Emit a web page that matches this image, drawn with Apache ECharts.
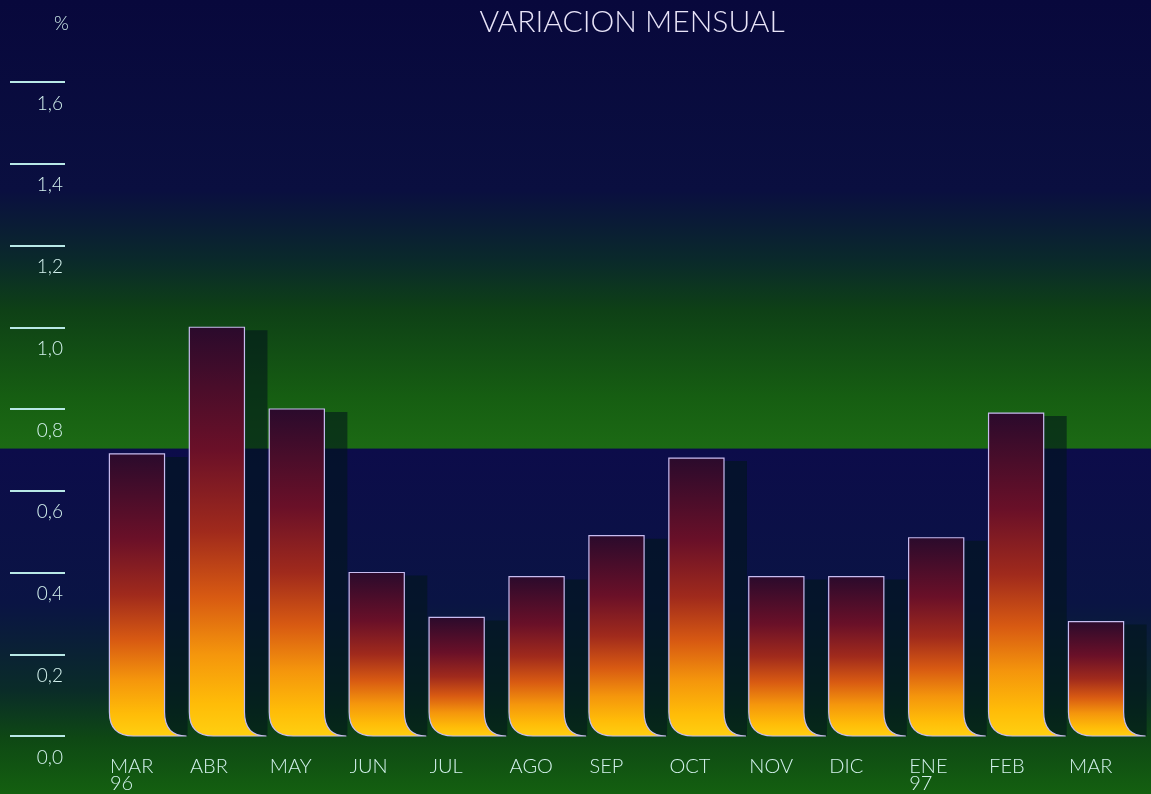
<!DOCTYPE html>
<html>
<head>
<meta charset="utf-8">
<title>Variacion mensual</title>
<script src="https://cdn.jsdelivr.net/npm/echarts@6/dist/echarts.min.js"></script>
<style>
  html, body { margin: 0; padding: 0; background: #0a0a3a; }
  #chart { width: 1151px; height: 794px; }
</style>
</head>
<body>
<div id="chart"></div>
<script>
// datos
var meses = ["MAR\n96", "ABR", "MAY", "JUN", "JUL", "AGO", "SEP", "OCT", "NOV", "DIC", "ENE\n97", "FEB", "MAR"];
var variacion = [0.69, 1.00, 0.80, 0.40, 0.29, 0.39, 0.49, 0.68, 0.39, 0.39, 0.485, 0.79, 0.28];
var etiquetasY = ["0,0", "0,2", "0,4", "0,6", "0,8", "1,0", "1,2", "1,4", "1,6"];

var textColor = "#d4f2ee";
var chart = echarts.init(document.getElementById("chart"));

function renderBar(params, api) {
  var top = api.coord([api.value(0), api.value(1)]);
  var base = api.coord([api.value(0), 0]);
  var w = api.size([1, 0])[0] * 0.69;
  var x0 = top[0] - w / 2;
  var x1 = x0 + w;
  var yt = top[1];
  var yb = base[1];
  var r = 24; // curva del pie
  var f = 22;
  var path = "M" + x0 + " " + yt + " L" + x1 + " " + yt +
    " L" + x1 + " " + (yb - r) + " Q" + x1 + " " + yb + " " + (x1 + f) + " " + yb +
    " L" + (x0 + r) + " " + yb + " Q" + x0 + " " + yb + " " + x0 + " " + (yb - r) + " Z";
  return {
    type: "group",
    children: [
      {
        // sombra a la derecha
        type: "rect",
        shape: { x: x1, y: yt + 3, width: f + 1, height: yb - yt - 3 },
        style: { fill: "rgba(2,22,26,0.6)" }
      },
      {
        type: "path",
        shape: { pathData: path },
        style: {
          fill: new echarts.graphic.LinearGradient(0, 0, 0, 1, [
            { offset: 0, color: "#2a0a2c" },
            { offset: 0.3, color: "#6a1028" },
            { offset: 0.5, color: "#a02a1c" },
            { offset: 0.66, color: "#d85a12" },
            { offset: 0.8, color: "#f5960c" },
            { offset: 0.92, color: "#ffbc08" },
            { offset: 1, color: "#ffd010" }
          ]),
          stroke: "#c8bcf0",
          lineWidth: 1.2
        }
      }
    ]
  };
}

chart.setOption({
  backgroundColor: new echarts.graphic.LinearGradient(0, 0, 0, 1, [
    { offset: 0, color: "#08083c" },
    { offset: 0.24, color: "#0a0f40" },
    { offset: 0.33, color: "#0a2a2a" },
    { offset: 0.39, color: "#0e4016" },
    { offset: 0.5, color: "#165e12" },
    { offset: 0.564, color: "#1c6a14" },
    { offset: 0.566, color: "#0c0c4a" },
    { offset: 0.76, color: "#0a1444" },
    { offset: 0.87, color: "#0a2c28" },
    { offset: 0.93, color: "#0e4814" },
    { offset: 1, color: "#146010" }
  ]),
  title: [
    {
      text: "VARIACION MENSUAL",
      left: 627,
      top: 2,
      textAlign: "center",
      textStyle: { color: "#e8e4f8", fontFamily: "Lato", fontWeight: 300, fontSize: 30 }
    },
    {
      text: "%",
      left: 49,
      top: 9,
      textStyle: { color: textColor, fontFamily: "Lato", fontWeight: 300, fontSize: 19 }
    }
  ],
  grid: { left: 97, right: 15, top: 82, bottom: 58 },
  xAxis: {
    type: "category",
    data: meses,
    axisLine: { show: false },
    axisTick: { show: false },
    axisLabel: {
      color: textColor,
      fontFamily: "Lato",
      fontWeight: 300,
      fontSize: 20,
      lineHeight: 17,
      margin: 22,
      align: "left",
      padding: [0, 0, 0, -27]
    }
  },
  yAxis: {
    type: "value",
    min: 0,
    max: 1.6,
    interval: 0.2,
    offset: 32,
    splitLine: { show: false },
    axisLine: { show: false },
    axisTick: { show: true, length: 55, lineStyle: { color: "#b8e8e6", width: 2 } },
    axisLabel: {
      color: textColor,
      fontFamily: "Lato",
      fontWeight: 300,
      fontSize: 19,
      margin: 2,
      verticalAlign: "top",
      padding: [12, 0, 0, 0],
      formatter: function (v) { return etiquetasY[Math.round(v / 0.2)]; }
    }
  },
  series: [
    {
      type: "custom",
      renderItem: renderBar,
      encode: { x: 0, y: 1 },
      data: variacion.map(function (v, i) { return [i, v]; })
    }
  ]
});
</script>
</body>
</html>
